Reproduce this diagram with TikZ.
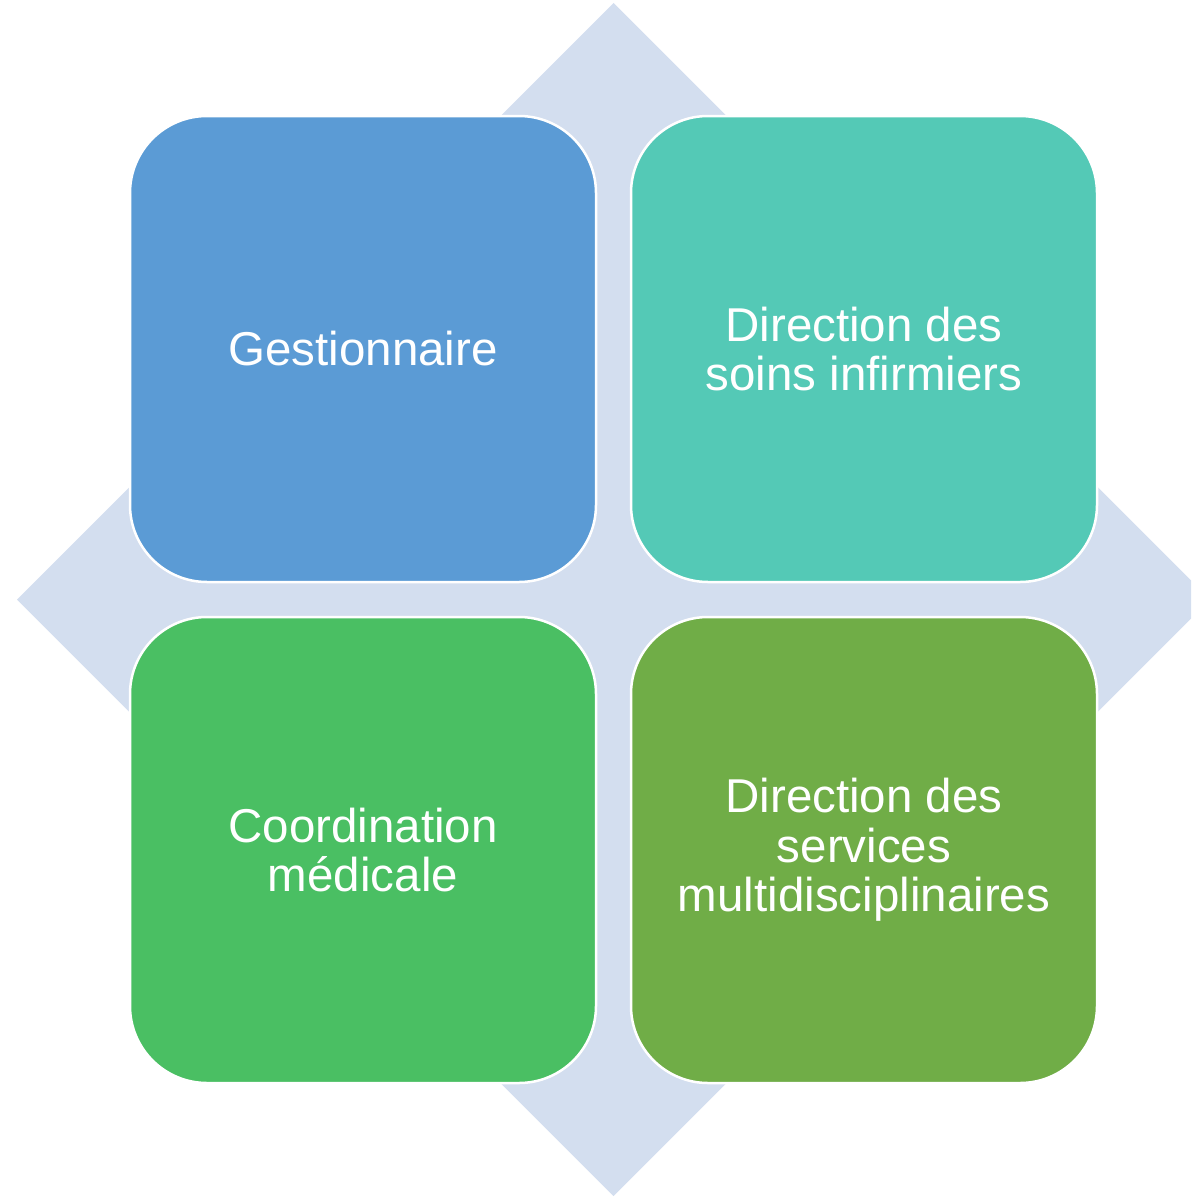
\documentclass[tikz,border=0pt]{standalone}
\usepackage{fontspec}
\setmainfont{Liberation Sans}
\usetikzlibrary{positioning}

\definecolor{backdrop}{HTML}{D3DEEF}
\definecolor{tileblue}{HTML}{5B9BD5}
\definecolor{tileteal}{HTML}{54C9B6}
\definecolor{tilegreen}{HTML}{4ABF63}
\definecolor{tileolive}{HTML}{70AD47}

\begin{document}
\begin{tikzpicture}[x=1pt, y=-1pt,
    tile/.style={draw=white, line width=2.5pt, minimum size=466pt, outer sep=0pt,
                 rounded corners=77pt, text=white, align=center,
                 font=\fontsize{47.5}{49.5}\selectfont}]
            \useasboundingbox (0,0) rectangle (1191,1199);
            \clip (0,0) rectangle (1191,1199);

            % diamond behind the four tiles
            \fill[backdrop] (613.5,3) -- (1210,599.5) -- (613.5,1196) -- (17,599.5) -- cycle;

            \node[tile, fill=tileblue] (manager) at (363,349) {Gestionnaire};
            \node[tile, fill=tileteal, right=35pt of manager] (nursing) {Direction des\\soins infirmiers};
            \node[tile, fill=tilegreen, below=35pt of manager] (medical) {Coordination\\médicale};
            \node[tile, fill=tileolive, right=35pt of medical] (services) {Direction des\\services\\multidisciplinaires};
        \end{tikzpicture}
\end{document}
